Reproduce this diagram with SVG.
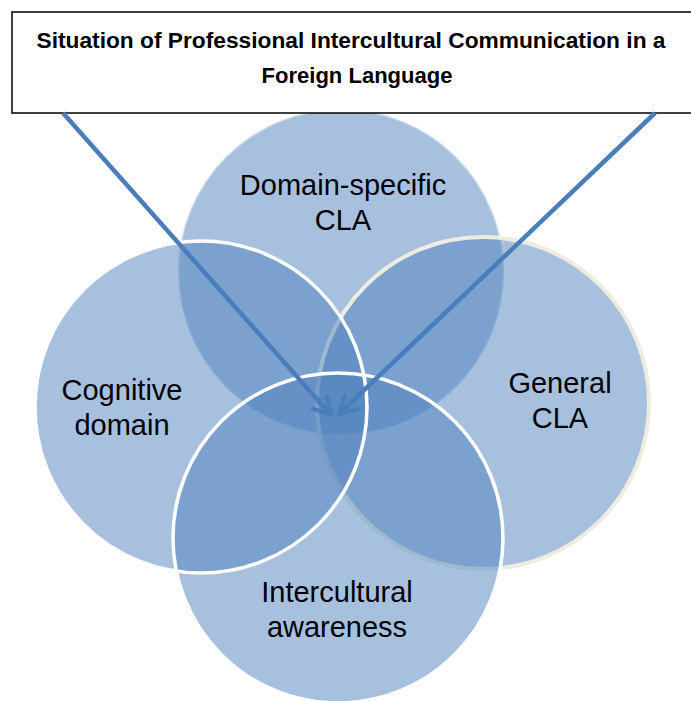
<svg xmlns="http://www.w3.org/2000/svg" width="691" height="701" viewBox="0 0 691 701">
<style>
.fill{fill:#4F81BD;fill-opacity:0.5}
.lbl{font-family:"Liberation Sans",Arial,sans-serif;font-size:29px;fill:#000;text-anchor:middle}
.title{font-family:"Liberation Sans",Arial,sans-serif;font-size:21.5px;font-weight:bold;fill:#000;text-anchor:middle}
.arrow{stroke:#4A7EBB;stroke-width:4.5;fill:none;marker-end:url(#head)}
</style>
<defs>
<marker id="head" viewBox="0 0 12 12" refX="10" refY="6" markerWidth="5" markerHeight="5" orient="auto" markerUnits="strokeWidth">
<path d="M1,1 L10,6 L1,11" fill="none" stroke="#4A7EBB" stroke-width="2.2" stroke-linecap="round" stroke-linejoin="round"/>
</marker>
</defs>
<rect width="691" height="701" fill="#fff"/>
<g id="domain-specific">
<circle class="fill" cx="341" cy="272" r="163" stroke="#fff" stroke-opacity="0.35" stroke-width="3"/>
<text class="lbl" x="343" y="195">Domain-specific</text>
<text class="lbl" x="343" y="230">CLA</text>
</g>
<g id="general">
<circle class="fill" cx="483" cy="403" r="166" stroke="#EEECE1" stroke-width="4"/>
<text class="lbl" x="560" y="393">General</text>
<text class="lbl" x="560" y="428">CLA</text>
</g>
<g id="cognitive">
<circle class="fill" cx="201" cy="407" r="166"/>
<text class="lbl" x="122" y="400">Cognitive</text>
<text class="lbl" x="122" y="435">domain</text>
</g>
<g id="intercultural">
<circle class="fill" cx="338" cy="538" r="165"/>
<text class="lbl" x="337" y="602">Intercultural</text>
<text class="lbl" x="337" y="637">awareness</text>
</g>
<g id="outlines" fill="none" stroke="#fff" stroke-width="3.5">
<circle cx="201" cy="407" r="166"/>
<circle cx="338" cy="538" r="165"/>
</g>
<g id="situation">
<rect x="12" y="12" width="690" height="101" fill="#fff" stroke="#000" stroke-width="1.5"/>
<text class="title" x="351" y="48" textLength="629" lengthAdjust="spacingAndGlyphs">Situation of Professional Intercultural Communication in a</text>
<text class="title" x="357" y="83" textLength="191" lengthAdjust="spacingAndGlyphs">Foreign Language</text>
</g>
<g id="connectors">
<line class="arrow" x1="63" y1="113" x2="331" y2="415"/>
<line class="arrow" x1="655" y1="113" x2="339" y2="414"/>
</g>
</svg>
